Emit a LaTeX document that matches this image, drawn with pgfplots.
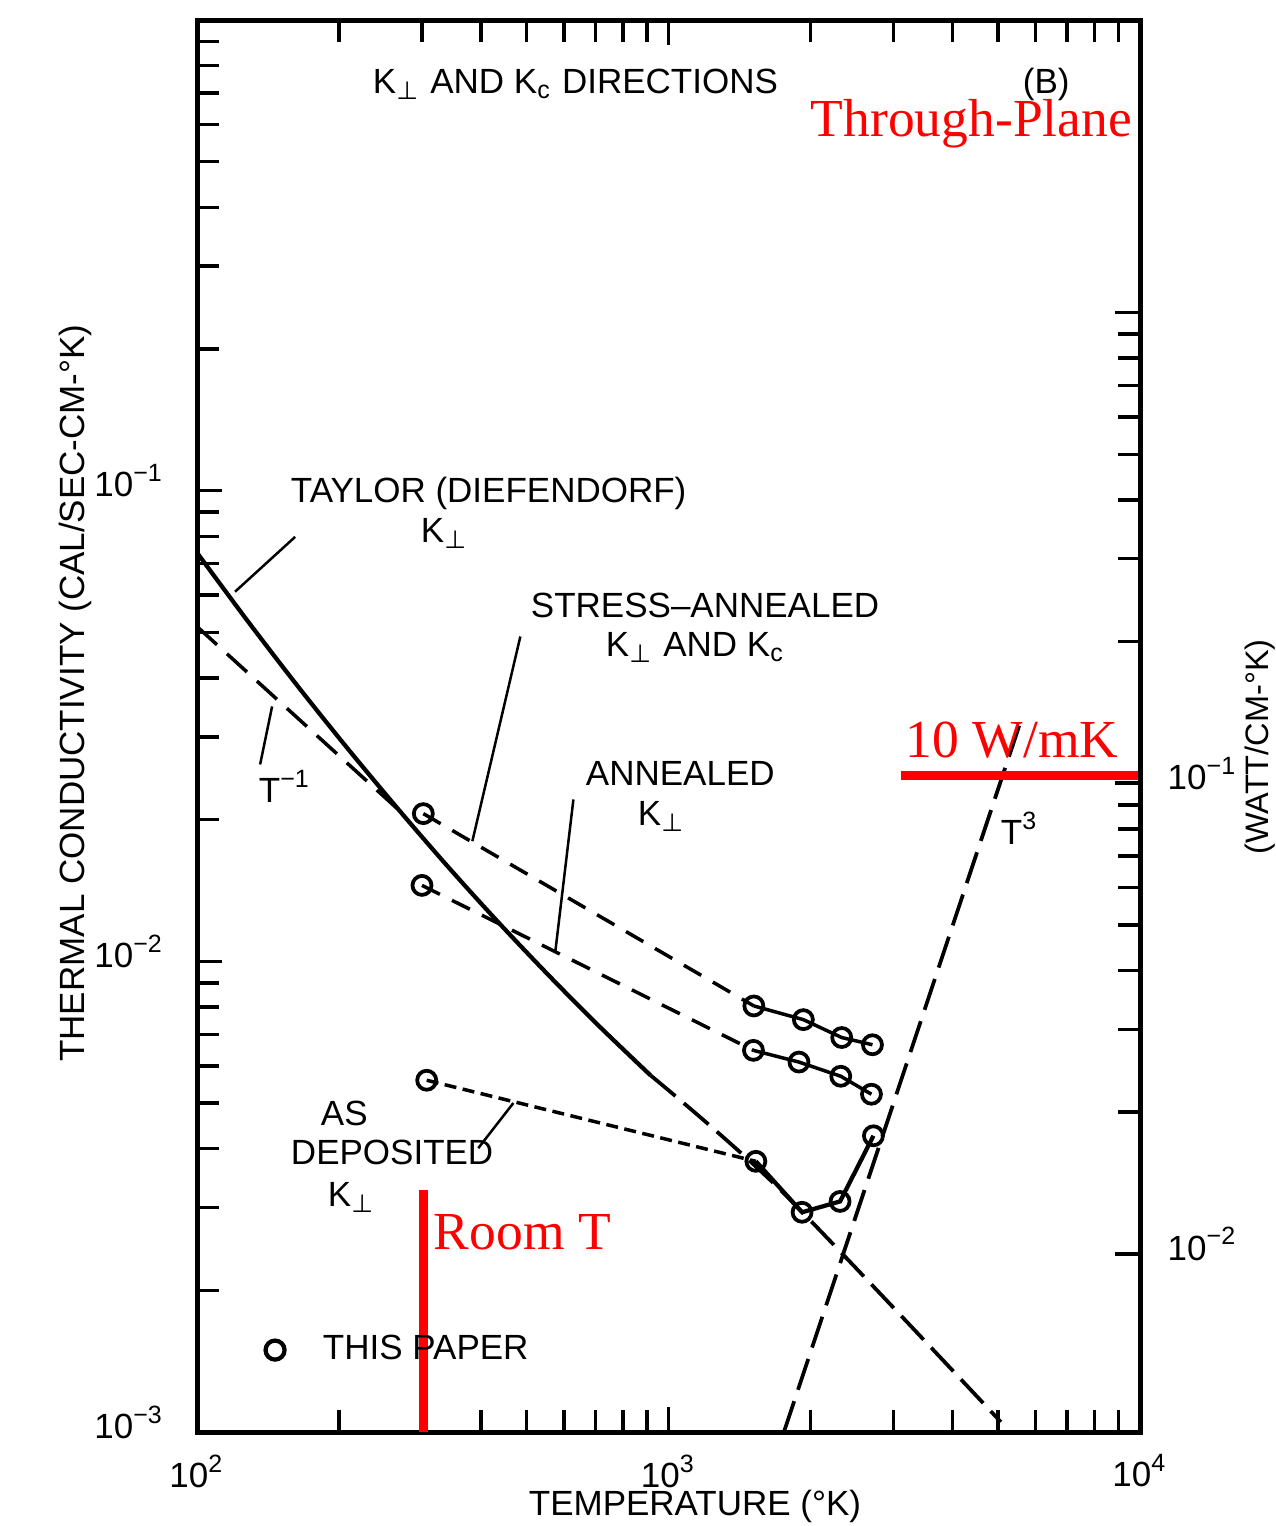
\documentclass[border=0pt]{standalone}
\usepackage{fontspec}
\setmainfont{Liberation Sans}
\newfontfamily\redfont{Liberation Serif}
\newfontfamily\symfont{DejaVu Sans}
\usepackage{pgfplots}
\pgfplotsset{compat=1.18}
\newcommand{\perpsub}{\textsubscript{\symfont ⊥}}
\newcommand{\lab}{\fontsize{7}{8}\selectfont}
\newcommand{\redlab}{\redfont\fontsize{10.7}{12}\selectfont}

\begin{document}
\begin{tikzpicture}
\path[use as bounding box] (-39.4pt,-18.8pt) rectangle (215.6pt,286.4pt);
\begin{axis}[
  at={(0,0)}, anchor=south west,
  scale only axis, width=188.6pt, height=282.4pt,
  xmode=log, ymode=log,
  xmin=100, xmax=10000, ymin=0.001, ymax=1,
  xtick={100,1000,10000},
  xticklabels={10\textsuperscript{2},10\textsuperscript{3},10\textsuperscript{4}},
  ytick={0.001,0.01,0.1,1},
  yticklabels={10\textsuperscript{−3},10\textsuperscript{−2},10\textsuperscript{−1},{}},
  xtick pos=both, ytick pos=left,
  tick align=inside,
  major tick length=5pt, minor tick length=4.5pt,
  every tick/.style={black, line width=0.7pt},
  axis line style={line width=1pt},
  tick label style={font=\lab},
  yticklabel style={xshift=-3pt, yshift=2pt},
  xticklabel style={yshift=-1pt},
  mark size=1.9pt,
]
% Taylor (Diefendorf) K_perp : solid part
\addplot[black, line width=0.85pt, smooth] coordinates {
  (100,0.07385) (127.7,0.05306) (163.0,0.03860) (208.2,0.02841) (265.9,0.02117)
  (339.5,0.01595) (433.5,0.01217) (553.6,0.009398) (706.9,0.007341) (915.6,0.005727)
};
% Taylor continuation : long dashes
\addplot[black, line width=0.75pt, smooth, dash pattern=on 6.5pt off 2.2pt] coordinates {
  (915.6,0.005727) (1729,0.003265) (5069,0.00105)
};
% T^-1 line
\addplot[black, line width=0.7pt, dash pattern=on 5.4pt off 2.7pt] coordinates {
  (100,0.05144) (269.8,0.02083)
};
% T^3 line
\addplot[black, line width=0.75pt, dash pattern=on 6.5pt off 2.4pt] coordinates {
  (1757,0.001) (5636,0.0333)
};
% Stress-annealed
\addplot[black, line width=0.7pt, dash pattern=on 4pt off 2.7pt] coordinates {
  (302,0.0206) (1517,0.00804)
};
\addplot[black, line width=0.7pt, mark=o, mark options={solid, fill=white, line width=0.75pt}] coordinates {
  (1517,0.00804) (1932,0.00752) (2330,0.00689) (2707,0.00665)
};
% Annealed
\addplot[black, line width=0.7pt, dash pattern=on 4pt off 2.7pt] coordinates {
  (300,0.0145) (1514,0.00647)
};
\addplot[black, line width=0.7pt, mark=o, mark options={solid, fill=white, line width=0.75pt}] coordinates {
  (1514,0.00647) (1891,0.00611) (2319,0.00570) (2694,0.00522)
};
% As deposited
\addplot[black, line width=0.7pt, dash pattern=on 2.4pt off 1.3pt] coordinates {
  (307,0.00559) (1532,0.00376)
};
\addplot[black, line width=0.85pt, mark=o, mark options={solid, fill=white, line width=0.75pt}] coordinates {
  (1532,0.00376) (1920,0.00293) (2311,0.00309) (2720,0.00426)
};
% room-temperature points
\addplot[only marks, black, mark=o, mark options={fill=white, line width=0.75pt}] coordinates {
  (302,0.0206) (300,0.0145) (307,0.00559)
};
% legend symbol "THIS PAPER"
\addplot[only marks, black, mark=o, mark options={fill=white, line width=0.85pt}] coordinates {
  (146.4,0.001493)
};
% leader lines
\draw[line width=0.5pt] (axis cs:161.5,0.0798) -- (axis cs:120.4,0.0610);
\draw[line width=0.5pt] (axis cs:136.1,0.0262) -- (axis cs:144.3,0.0348);
\draw[line width=0.5pt] (axis cs:485,0.0490) -- (axis cs:383.7,0.0180);
\draw[line width=0.5pt] (axis cs:628.5,0.02208) -- (axis cs:575.4,0.01050);
\draw[line width=0.5pt] (axis cs:395,0.00401) -- (axis cs:468.8,0.00500);
% red annotations
\draw[red, line width=1.7pt] (axis cs:302,0.001) -- (axis cs:302,0.00327);
\draw[red, line width=1.8pt] (axis cs:3108,0.02483) -- (axis cs:10000,0.02483);
\end{axis}

% right-hand axis in W/cm-K
\begin{axis}[
  at={(0,0)}, anchor=south west,
  scale only axis, width=188.6pt, height=282.4pt,
  xmode=log, ymode=log,
  xmin=100, xmax=10000, ymin=0.004184, ymax=4.184,
  axis x line=none, axis y line*=right,
  ytick={0.01,0.1,1},
  yticklabels={10\textsuperscript{−2},10\textsuperscript{−1},{}},
  tick align=inside,
  major tick length=5pt, minor tick length=4.5pt,
  every tick/.style={black, line width=0.7pt},
  axis line style={line width=1pt, -},
  tick label style={font=\lab},
  yticklabel style={xshift=2pt, yshift=2pt},
]
\end{axis}

\begin{scope}[shift={(-39.4pt,286.4pt)}, x=0.2pt, y=-0.2pt,
  every node/.style={inner sep=0pt, font=\lab}]
\node[anchor=base west] at (372,94) {K\perpsub{} AND K\textsubscript{c} DIRECTIONS};
\node[anchor=base west] at (1022,94) {(B)};
\node[anchor=base west, red, font=\redlab] at (810,137) {Through-Plane};
\node[anchor=base west] at (290,503) {TAYLOR (DIEFENDORF)};
\node[anchor=base west] at (420,543) {K\perpsub};
\node[anchor=base west] at (530,618) {STRESS–ANNEALED};
\node[anchor=base west] at (605,657) {K\perpsub{} AND K\textsubscript{c}};
\node[anchor=base west] at (585,786) {ANNEALED};
\node[anchor=base west] at (637,826) {K\perpsub};
\node[anchor=base west] at (258,803) {T\textsuperscript{−1}};
\node[anchor=base west] at (1000,845) {T\textsuperscript{3}};
\node[anchor=base west] at (320,1126) {AS};
\node[anchor=base west] at (290,1165) {DEPOSITED};
\node[anchor=base west] at (327,1207) {K\perpsub};
\node[anchor=base west] at (322,1360) {THIS PAPER};
\node[anchor=base west, red, font=\redlab] at (433,1250) {Room T};
\node[anchor=base west, red, font=\redlab] at (905,758) {10 W/mK};
\node[anchor=center] at (695,1506) {TEMPERATURE (°K)};
\node[anchor=center, rotate=90] at (75,693) {THERMAL CONDUCTIVITY (CAL/SEC-CM-°K)};
\node[anchor=center, rotate=90, font=\fontsize{6.5}{7.5}\selectfont] at (1260,747) {(WATT/CM-°K)};
\end{scope}
\end{tikzpicture}
\end{document}
